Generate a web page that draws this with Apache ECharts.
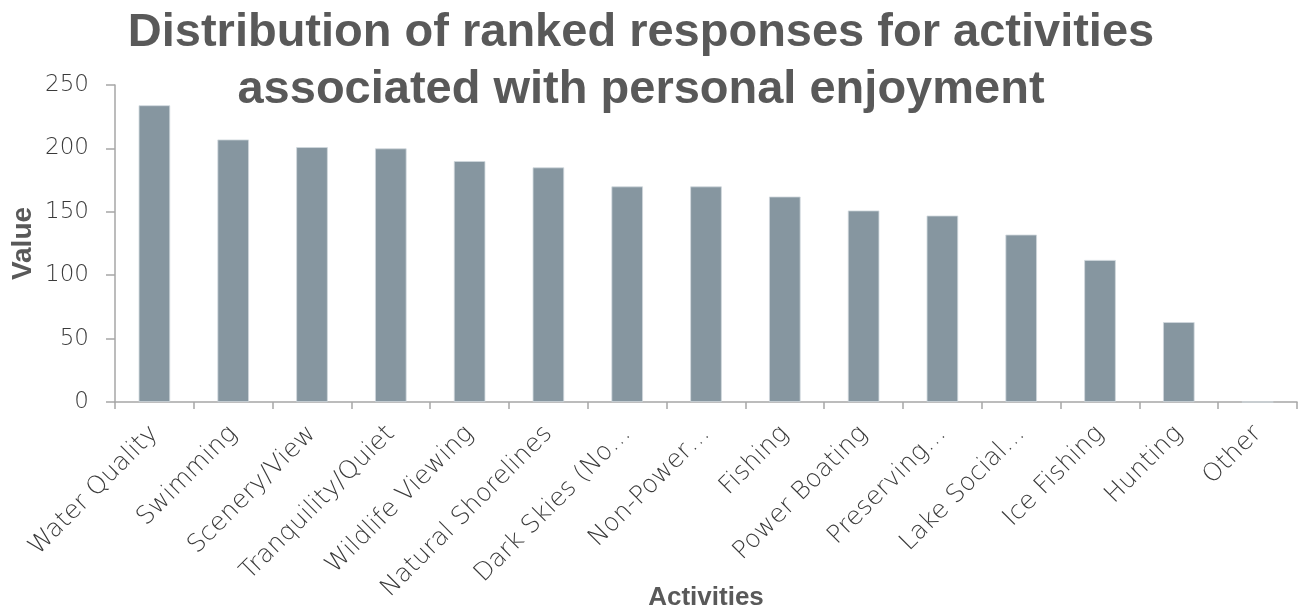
<!DOCTYPE html>
<html>
<head>
<meta charset="utf-8">
<script src="https://cdn.jsdelivr.net/npm/echarts@6/dist/echarts.min.js"></script>
<style>
html,body{margin:0;padding:0;background:#fff;}
#chart{width:1302px;height:613px;}
</style>
</head>
<body>
<div id="chart"></div>
<script>
const titleText = 'Distribution of ranked responses for activities\nassociated with personal enjoyment';
const categories = ['Water Quality','Swimming','Scenery/View','Tranquility/Quiet','Wildlife Viewing','Natural Shorelines','Dark Skies (No…','Non-Power…','Fishing','Power Boating','Preserving…','Lake Social…','Ice Fishing','Hunting','Other'];
const values = [234,207,201,200,190,185,170,170,162,151,147,132,112,63,0];
const yTicks = [0,50,100,150,200,250];

const chart = echarts.init(document.getElementById('chart'));
chart.setOption({
  animation:false,
  backgroundColor:'#fff',
  title:{
    text:titleText,
    left:636, top:0, textAlign:'center',
    textStyle:{fontFamily:'Liberation Sans, Arial, sans-serif',fontWeight:'bold',fontSize:47,color:'#595959',lineHeight:57}
  },
  grid:{left:115,right:5,top:85,bottom:211,containLabel:false,outerBoundsMode:'none'},
  xAxis:{
    type:'category',
    data:categories,
    name:'Activities',
    nameLocation:'middle',
    nameGap:183,
    nameMoveOverlap:false,
    nameTextStyle:{fontFamily:'Liberation Sans Narrow, Liberation Sans, sans-serif',fontWeight:'bold',fontSize:26,color:'#595959',verticalAlign:'top'},
    axisLine:{lineStyle:{color:'#A6A6A6',width:1.5}},
    axisTick:{show:true,alignWithLabel:false,length:7,lineStyle:{color:'#A6A6A6',width:1.5}},
    axisLabel:{rotate:45,interval:0,margin:28,fontFamily:'DejaVu Sans, sans-serif',fontWeight:200,fontSize:25,color:'#3a3a3a'}
  },
  yAxis:{
    type:'value',
    min:yTicks[0], max:yTicks[yTicks.length-1], interval:50,
    name:'Value',
    nameLocation:'middle',
    nameGap:78,
    nameMoveOverlap:false,
    nameTextStyle:{fontFamily:'Liberation Sans Narrow, Liberation Sans, sans-serif',fontWeight:'bold',fontSize:28,color:'#595959'},
    axisLine:{show:true,lineStyle:{color:'#A6A6A6',width:1.5}},
    axisTick:{show:true,length:9,lineStyle:{color:'#A6A6A6',width:1.5}},
    splitLine:{show:false},
    axisLabel:{margin:26,fontFamily:'DejaVu Sans, sans-serif',fontWeight:200,fontSize:23,color:'#3a3a3a'}
  },
  series:[{
    type:'bar',
    data:values,
    barWidth:'40%',
    itemStyle:{color:'#8696A0',borderColor:'#D0D8DD',borderWidth:0.8}
  }]
});
</script>
</body>
</html>
